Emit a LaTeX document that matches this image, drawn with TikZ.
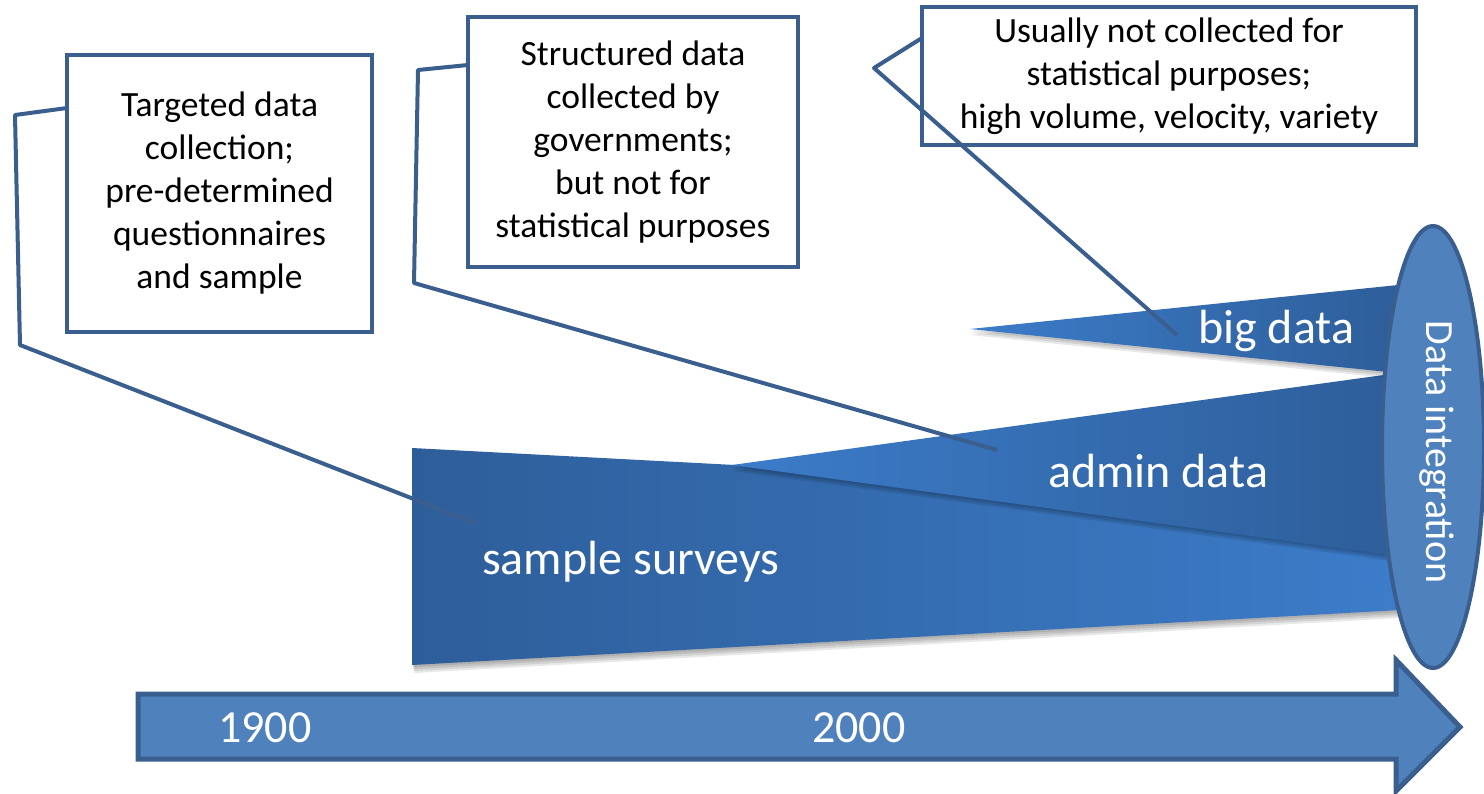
\documentclass[tikz,border=0pt]{standalone}
\usepackage{fontspec}
\setmainfont{Carlito}
\usetikzlibrary{shapes.geometric}
\definecolor{edgeblue}{HTML}{3A5F8E}
\definecolor{fillblue}{HTML}{4F81BD}
\definecolor{darkw}{HTML}{2E5E9A}
\definecolor{lightw}{HTML}{3C7CC9}
\tikzset{
  callbox/.style={draw=edgeblue, line width=4.5pt, fill=white, inner sep=0pt,
    align=center, font=\fontsize{35.5}{43}\selectfont, text=black},
  callline/.style={draw=edgeblue, line width=4pt, line join=round},
  biglabel/.style={text=white, inner sep=0pt, font=\fontsize{48}{58}\selectfont},
  yearlabel/.style={text=white, inner sep=0pt, font=\fontsize{46}{55}\selectfont},
  wshadow/.style={fill=black, opacity=0.09},
}
\begin{document}
\begin{tikzpicture}[x=1pt,y=-1pt]
\useasboundingbox (0,0) rectangle (1484,793);

% ---- shadows of the wedges ----
\foreach \d in {2,4,6,8}{
  \fill[wshadow] (412+\d*0.3,448+\d) -- (1400,500+\d) -- (1400,610+\d) -- (412+\d*0.3,665+\d) -- cycle;
}
% ---- sample surveys ----
\shade[left color=darkw, right color=lightw]
  (412,448) -- (1400,500) -- (1400,610) -- (412,665) -- cycle;
% ---- admin data ----
\foreach \d in {2,4,6}{
  \fill[wshadow] (732,465+\d) -- (1398,373+\d) -- (1398,556+\d) -- cycle;
}
\shade[left color=lightw, right color=darkw]
  (732,465) -- (1398,373) -- (1398,556) -- cycle;
% ---- big data ----
\foreach \d in {2,4,6}{
  \fill[wshadow] (970,329+\d) -- (1398,285+\d) -- (1398,373+\d) -- cycle;
}
\shade[left color=lightw, right color=darkw]
  (970,329) -- (1398,285) -- (1398,373) -- cycle;

\node[biglabel, anchor=base west] (ss) at (482,574) {sample surveys};
\node[biglabel, anchor=base west] (ad) at (1048,487) {admin data};
\node[biglabel, anchor=base west] (bd) at (1198,343) {big data};

% ---- data integration ellipse ----
\node[ellipse, draw=edgeblue, line width=4pt, fill=fillblue,
      minimum width=102pt, minimum height=442pt, inner sep=0pt] (di) at (1433,447) {};
\node[text=white, rotate=-90, inner sep=0pt, font=\fontsize{40}{48}\selectfont]
  (dit) at (1437,452) {Data integration};

% ---- time arrow ----
\draw[edgeblue, line width=5pt, fill=fillblue, line join=miter]
  (138,694) -- (1396,694) -- (1396,660) -- (1460,727) -- (1396,791)
  -- (1396,759) -- (138,759) -- cycle;
\node[yearlabel, anchor=base west] (y1) at (218,742) {1900};
\node[yearlabel, anchor=base west] (y2) at (812,742) {2000};

% ---- callout boxes ----
\node[callbox, minimum width=305pt, minimum height=277pt] (box1) at (219.5,193.5)
  {Targeted data\\collection;\\pre-determined\\questionnaires\\and sample};
\node[callbox, minimum width=330pt, minimum height=250pt] (box2) at (633,142)
  {Structured data\\collected by\\governments;\\but not for\\statistical purposes};
\node[callbox, minimum width=494pt, minimum height=138pt] (box3) at (1169,76)
  {Usually not collected for\\statistical purposes;\\high volume, velocity, variety};

% ---- callout lines ----
\coordinate (a0) at (67,108);
\coordinate (a1) at (15,115);
\coordinate (a2) at (20,345);
\coordinate (a3) at (475,523);
\coordinate (b0) at (468,65);
\coordinate (b1) at (418,70);
\coordinate (b2) at (414,283);
\coordinate (b3) at (997,450);
\coordinate (c0) at (922,38);
\coordinate (c1) at (874,68);
\coordinate (c2) at (1177,335);
\draw[callline] (a0) -- (a1) -- (a2) -- (a3);
\draw[callline] (b0) -- (b1) -- (b2) -- (b3);
\draw[callline] (c0) -- (c1) -- (c2);
\end{tikzpicture}
\end{document}
